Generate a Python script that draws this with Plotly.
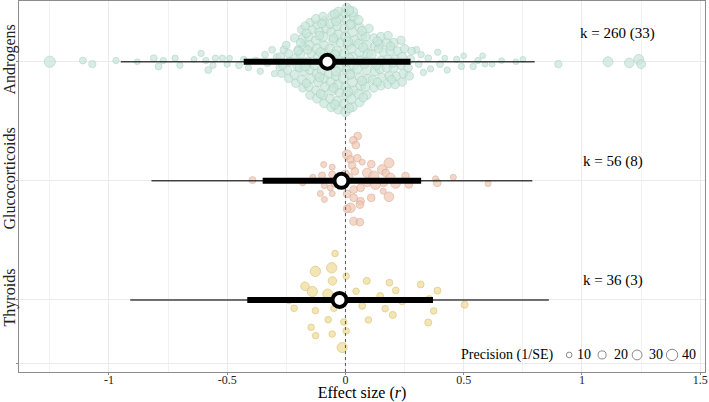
import numpy as np
import plotly.graph_objects as go

# moderator levels, top to bottom
moderators = ["Androgens", "Glucocorticoids", "Thyroids"]
y_pos = [3, 2, 1]
k_labels = ["k = 260 (33)", "k = 56 (8)", "k = 36 (3)"]
k_x = [1.15, 1.13, 1.13]
k_dy = [0.24, 0.16, 0.16]

# model estimates (effect size r)
est = [-0.076, -0.017, -0.025]
ci_lo = [-0.43, -0.35, -0.415]
ci_hi = [0.275, 0.32, 0.37]
pi_lo = [-0.95, -0.82, -0.91]
pi_hi = [0.80, 0.79, 0.86]

# individual effect sizes: value, vertical jitter, precision (1/SE)
andro_x = [
    -1.25, -1.11, -1.07, -0.97, -0.88, -0.81, -0.79, -0.77, -0.72, -0.70,
    -0.64, -0.61, -0.59, -0.58, -0.56, -0.55, -0.52, -0.50, -0.49, -0.45,
    -0.43, -0.41, -0.38, -0.36, -0.34, -0.33, -0.31, -0.30, -0.29, -0.28,
    0.30, 0.31, 0.32, 0.33, 0.35, 0.36, 0.39, 0.40, 0.42, 0.43,
    0.47, 0.49, 0.50, 0.54, 0.56, 0.58, 0.59, 0.62, 0.66, 0.72,
    0.75, 0.90, 1.11, 1.20, 1.24, 1.25,
    -0.27, -0.265, -0.275, -0.26,
    -0.24, -0.245, -0.235, -0.24, -0.25,
    -0.21, -0.215, -0.205, -0.21, -0.20, -0.215,
    -0.18, -0.185, -0.175, -0.18, -0.19, -0.175, -0.18, -0.185,
    -0.15, -0.155, -0.145, -0.15, -0.16, -0.145, -0.15, -0.155, -0.14, -0.15,
    -0.12, -0.125, -0.115, -0.12, -0.13, -0.115, -0.12, -0.125, -0.11, -0.12, -0.125,
    -0.09, -0.095, -0.085, -0.09, -0.10, -0.085, -0.09, -0.095, -0.08, -0.09, -0.095,
    -0.06, -0.065, -0.055, -0.06, -0.07, -0.055, -0.06, -0.065, -0.05, -0.06, -0.065, -0.055,
    -0.03, -0.035, -0.025, -0.03, -0.04, -0.025, -0.03, -0.035, -0.02, -0.03, -0.035, -0.025, -0.03,
    0.0, -0.005, 0.005, 0.0, -0.01, 0.005, 0.0, -0.005, 0.01, 0.0, -0.005, 0.005, 0.0, 0.005,
    0.03, 0.025, 0.035, 0.03, 0.02, 0.035, 0.03, 0.025, 0.04, 0.03, 0.025, 0.035, 0.03,
    0.06, 0.055, 0.065, 0.06, 0.05, 0.065, 0.06, 0.055, 0.07, 0.06, 0.055,
    0.09, 0.085, 0.095, 0.09, 0.08, 0.095, 0.09, 0.085, 0.10,
    0.12, 0.115, 0.125, 0.12, 0.11, 0.125, 0.12,
    0.15, 0.155, 0.145, 0.15, 0.16, 0.145, 0.15,
    0.18, 0.185, 0.175, 0.18, 0.19, 0.175, 0.18,
    0.21, 0.215, 0.205, 0.21, 0.22, 0.205,
    0.24, 0.245, 0.235, 0.24, 0.25, 0.235,
    0.27, 0.265, 0.275, 0.28,
    -0.195, -0.20, -0.19,
    -0.165, -0.17, -0.16, -0.165, -0.17,
    -0.105, -0.11, -0.10, -0.105, -0.11, -0.10,
    -0.045, -0.05, -0.04, -0.045, -0.05, -0.04, -0.045,
    0.015, 0.01, 0.02, 0.015, 0.01, 0.02, 0.015,
    0.075, 0.07, 0.08, 0.075, 0.07,
    0.135, 0.13, 0.14, 0.135,
    0.195, 0.20, 0.19,
]
andro_dy = [
    0, 0.01, -0.02, 0.01, 0, 0.03, -0.04, 0.01, 0.03, -0.03,
    0.02, 0.07, 0.01, -0.07, -0.03, 0.03, 0.03, -0.02, 0.03, -0.03,
    0.02, -0.05, 0.01, -0.08, 0.06, -0.01, 0.10, -0.10, 0.04, -0.05,
    0.10, -0.02, 0.06, -0.09, 0.03, -0.06, 0.08, -0.02, 0.03, -0.07,
    0.02, -0.04, 0.05, -0.04, 0.01, 0.05, -0.02, -0.02, 0.01, 0,
    0.02, -0.02, 0, -0.01, 0.02, -0.02,
    -0.10, -0.03, 0.04, 0.10,
    -0.14, -0.07, 0.0, 0.07, 0.14,
    -0.18, -0.11, -0.04, 0.03, 0.10, 0.20,
    -0.22, -0.15, -0.08, -0.01, 0.06, 0.13, 0.20, 0.27,
    -0.28, -0.21, -0.14, -0.07, 0.0, 0.07, 0.14, 0.21, 0.27, 0.33,
    -0.31, -0.24, -0.17, -0.10, -0.03, 0.04, 0.11, 0.18, 0.25, 0.31, 0.36,
    -0.35, -0.28, -0.21, -0.14, -0.07, 0.07, 0.14, 0.21, 0.28, 0.34, 0.38,
    -0.38, -0.31, -0.24, -0.17, -0.10, -0.03, 0.04, 0.11, 0.18, 0.25, 0.32, 0.39,
    -0.40, -0.33, -0.26, -0.19, -0.12, -0.05, 0.02, 0.09, 0.16, 0.23, 0.30, 0.36, 0.42,
    -0.42, -0.35, -0.28, -0.21, -0.14, -0.07, 0.0, 0.07, 0.14, 0.21, 0.28, 0.35, 0.41, 0.45,
    -0.38, -0.31, -0.24, -0.17, -0.10, -0.03, 0.04, 0.11, 0.18, 0.25, 0.32, 0.38, 0.42,
    -0.34, -0.27, -0.20, -0.13, -0.06, 0.01, 0.08, 0.15, 0.22, 0.29, 0.35,
    -0.28, -0.21, -0.14, -0.07, 0.0, 0.07, 0.14, 0.21, 0.28,
    -0.22, -0.15, -0.08, -0.01, 0.06, 0.13, 0.20,
    -0.20, -0.13, -0.06, 0.01, 0.08, 0.15, 0.21,
    -0.19, -0.12, -0.05, 0.02, 0.09, 0.16, 0.22,
    -0.19, -0.12, -0.05, 0.02, 0.09, 0.16,
    -0.17, -0.10, -0.03, 0.04, 0.11, 0.18,
    -0.12, -0.05, 0.02, 0.09,
    -0.05, 0.09, 0.16,
    -0.18, -0.04, 0.10, 0.24, 0.30,
    -0.27, -0.13, 0.0, 0.08, 0.22, 0.32,
    -0.36, -0.22, -0.08, 0.06, 0.20, 0.34, 0.40,
    -0.39, -0.25, -0.11, 0.03, 0.17, 0.31, 0.43,
    -0.30, -0.16, -0.02, 0.12, 0.26,
    -0.17, -0.03, 0.11, 0.17,
    -0.15, -0.01, 0.13,
]
andro_prec = [
    38, 14, 16, 12, 10, 14, 14, 12, 12, 12,
    10, 12, 12, 14, 12, 12, 12, 12, 10, 14,
    12, 12, 14, 12, 14, 16, 14, 12, 16, 14,
    14, 14, 12, 12, 14, 12, 12, 14, 10, 12,
    12, 12, 10, 12, 12, 10, 10, 10, 10, 10,
    10, 16, 30, 28, 30, 24,
    18, 20, 22, 18,
    20, 22, 24, 20, 18,
    22, 24, 20, 26, 22, 20,
    20, 24, 26, 22, 24, 28, 22, 20,
    22, 24, 28, 24, 26, 22, 28, 24, 22, 20,
    24, 22, 26, 28, 24, 26, 30, 24, 26, 22, 24,
    24, 26, 28, 24, 26, 28, 24, 30, 26, 24, 22,
    26, 24, 28, 30, 26, 24, 28, 26, 30, 24, 26, 24,
    26, 28, 24, 30, 26, 28, 24, 30, 26, 28, 26, 24, 26,
    28, 26, 30, 24, 28, 26, 30, 28, 26, 30, 24, 28, 26, 28,
    26, 28, 24, 30, 26, 28, 26, 24, 30, 26, 28, 26, 30,
    24, 26, 28, 24, 26, 28, 24, 26, 28, 24, 26,
    24, 26, 22, 28, 24, 26, 28, 24, 22,
    22, 24, 26, 24, 28, 24, 22,
    24, 22, 26, 24, 22, 26, 24,
    22, 24, 26, 22, 24, 26, 22,
    24, 22, 26, 24, 22, 24,
    22, 24, 22, 26, 22, 20,
    20, 22, 20, 18,
    20, 22, 20,
    22, 24, 22, 24, 20,
    24, 26, 24, 26, 24, 22,
    26, 24, 28, 26, 24, 26, 24,
    26, 28, 24, 26, 28, 24, 26,
    24, 26, 24, 26, 24,
    22, 24, 22, 24,
    22, 24, 22,
]

gluco_x = [0.052, 0.033, 0.044, 0.007, 0.021, 0.05, -0.092, -0.056, 0.028, 0.071,
           0.109, 0.184, 0.155, 0.092, 0.12, 0.17, 0.04, -0.099, -0.056, -0.138,
           -0.393, -0.181, -0.089, -0.064, -0.106, -0.089, -0.056, 0.007, 0.035, 0.064,
           0.092, 0.127, 0.162, 0.19, 0.212, 0.254, 0.268, 0.381, 0.388, 0.456,
           0.603, 0.16, 0.184, 0.109, 0.064, 0.035, 0.061, 0.021, 0.007, 0.035,
           0.061, -0.03, -0.01, 0.015, -0.045, 0.0]
gluco_dy = [0.376, 0.34, 0.30, 0.22, 0.18, 0.19, 0.137, 0.115, 0.13, 0.157,
            0.14, 0.15, 0.095, 0.067, 0.04, 0.067, 0.08, 0.045, 0.053, 0.03,
            0.006, -0.017, -0.04, -0.059, -0.107, -0.157, -0.107, -0.109, -0.073, -0.059,
            -0.017, -0.031, -0.017, 0.025, -0.023, 0.04, -0.031, 0.017, -0.017, 0.03,
            -0.023, -0.087, -0.134, -0.143, -0.171, -0.143, -0.2, -0.227, -0.235, -0.339,
            -0.347, 0.02, -0.03, 0.03, -0.02, 0.06]
gluco_prec = [18, 18, 18, 28, 18, 18, 11, 11, 18, 11,
              18, 30, 28, 28, 30, 18, 18, 15, 15, 11,
              15, 11, 11, 11, 11, 11, 11, 18, 18, 18,
              18, 30, 18, 28, 28, 18, 18, 11, 18, 11,
              11, 11, 28, 18, 18, 18, 18, 28, 18, 20,
              18, 18, 18, 18, 18, 18]

thyro_x = [-0.044, -0.127, -0.058, 0.003, -0.055, 0.09, 0.186, 0.318, -0.171, -0.14,
           -0.075, 0.045, 0.213, 0.389, 0.147, 0.24, 0.355, -0.239, -0.217, -0.127,
           -0.049, 0.071, 0.168, 0.504, 0.373, 0.2, 0.097, -0.073, -0.007, -0.145,
           0.35, 0.003, -0.126, -0.056, -0.014, -0.03]
thyro_dy = [0.39, 0.24, 0.27, 0.20, 0.16, 0.16, 0.145, 0.13, 0.115, 0.07,
            0.05, 0.073, 0.08, 0.078, 0.034, -0.014, 0.008, -0.006, -0.07, -0.09,
            -0.07, -0.05, -0.073, -0.04, -0.092, -0.126, -0.168, -0.166, -0.185, -0.23,
            -0.19, -0.26, -0.30, -0.286, -0.40, 0.0]
thyro_prec = [13, 32, 32, 13, 22, 15, 14, 14, 22, 32,
              30, 13, 14, 15, 14, 13, 14, 12, 13, 13,
              13, 14, 13, 15, 13, 15, 13, 13, 13, 13,
              15, 13, 13, 13, 31, 15]

legend_prec = [10, 20, 30, 40]

groups = [(andro_x, andro_dy, andro_prec), (gluco_x, gluco_dy, gluco_prec), (thyro_x, thyro_dy, thyro_prec)]
for gx, gdy, gp in groups:
    assert len(gx) == len(gdy) == len(gp)

fills = ["#c5e5d9", "#efc3ad", "#f0da8c"]
edges = ["#a6d1c1", "#d9a48b", "#d6bc5e"]
serif = "Liberation Serif"
x_range = [-1.38, 1.52]
y_range = [0.395, 3.51]


def dot_size(p):
    return 1.8 * np.sqrt(np.array(p, dtype=float))


fig = go.Figure()

for i, (gx, gdy, gp) in enumerate(groups):
    fig.add_trace(go.Scatter(
        x=gx, y=[y_pos[i] + d for d in gdy], mode="markers",
        marker=dict(size=dot_size(gp), color=fills[i], line=dict(color=edges[i], width=1)),
        opacity=0.92, hoverinfo="skip", showlegend=False))

# zero line
fig.add_trace(go.Scatter(x=[0, 0], y=y_range, mode="lines",
                         line=dict(color="#555555", width=1, dash="3px,3px"),
                         hoverinfo="skip", showlegend=False))

for i in range(len(moderators)):
    fig.add_trace(go.Scatter(x=[pi_lo[i], pi_hi[i]], y=[y_pos[i], y_pos[i]], mode="lines",
                             line=dict(color="rgba(20,20,20,0.8)", width=1.5),
                             hoverinfo="skip", showlegend=False))
    fig.add_trace(go.Scatter(x=[ci_lo[i], ci_hi[i]], y=[y_pos[i], y_pos[i]], mode="lines",
                             line=dict(color="black", width=6),
                             hoverinfo="skip", showlegend=False))

fig.add_trace(go.Scatter(x=est, y=y_pos, mode="markers",
                         marker=dict(size=14, color="white", line=dict(color="black", width=4)),
                         hoverinfo="skip", showlegend=False))

for i in range(len(moderators)):
    fig.add_annotation(x=k_x[i], y=y_pos[i] + k_dy[i], text=k_labels[i], showarrow=False,
                       font=dict(family=serif, size=15, color="black"))

# precision legend, bottom right
leg_cx = [0.802, 0.850, 0.901, 0.952]
leg_tx = [0.811, 0.864, 0.916, 0.963]
leg_y = 0.046
fig.add_annotation(x=0.782, y=leg_y, xref="paper", yref="paper", xanchor="right", yanchor="middle",
                   text="Precision (1/SE)", showarrow=False,
                   font=dict(family=serif, size=14, color="black"))
for j, p in enumerate(legend_prec):
    r = dot_size([p])[0] / 2
    fig.add_shape(type="circle", xref="paper", yref="paper",
                  xsizemode="pixel", ysizemode="pixel",
                  xanchor=leg_cx[j], yanchor=leg_y, x0=-r, x1=r, y0=-r, y1=r,
                  line=dict(color="#8a8a8a", width=1), fillcolor="white")
    fig.add_annotation(x=leg_tx[j], y=leg_y, xref="paper", yref="paper", xanchor="left", yanchor="middle",
                       text=str(p), showarrow=False,
                       font=dict(family=serif, size=14, color="black"))

fig.update_layout(
    width=709, height=402,
    margin=dict(l=19, r=4, t=1, b=30),
    plot_bgcolor="white", paper_bgcolor="white",
    font=dict(family=serif, color="black"),
)
fig.update_xaxes(
    range=x_range, tickvals=[-1, -0.5, 0, 0.5, 1, 1.5], ticktext=["-1", "-0.5", "0", "0.5", "1", "1.5"],
    showgrid=True, gridcolor="#ebebeb", gridwidth=1,
    minor=dict(tickvals=[-1.25, -0.75, -0.25, 0.25, 0.75, 1.25], showgrid=True, gridcolor="#f2f2f2"),
    zeroline=False, showline=True, linecolor="#8c8c8c", linewidth=1, mirror=True,
    ticks="outside", ticklen=2, tickcolor="#8c8c8c", ticklabelstandoff=-5,
    tickfont=dict(family=serif, size=12, color="#222222"),
    title=dict(text="Effect size (<i>r</i>)", font=dict(family=serif, size=16), standoff=2),
    automargin=False,
)
fig.update_yaxes(
    range=y_range, tickvals=[0.47] + y_pos, ticktext=[""] + moderators, tickangle=-90,
    showgrid=True, gridcolor="#ebebeb", zeroline=False,
    showline=True, linecolor="#8c8c8c", linewidth=1, mirror=True,
    ticks="outside", ticklen=2, tickcolor="#8c8c8c", ticklabelstandoff=-5,
    tickfont=dict(family=serif, size=16, color="#222222"),
    automargin=False,
)

# the page body has a default 8px margin; drop it so the figure fills the window
fig.write_html("out.html", config={"displayModeBar": False},
               post_script="document.body.style.margin='0px';")
